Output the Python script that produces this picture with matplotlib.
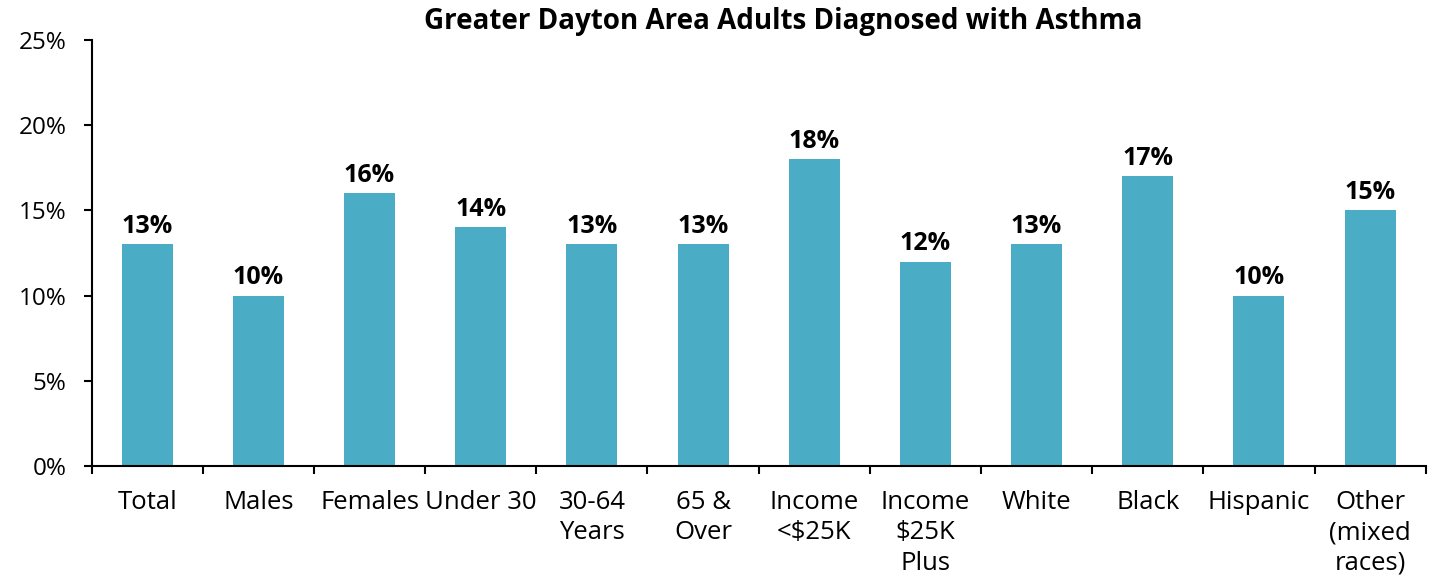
import matplotlib
matplotlib.use("Agg")
import matplotlib.pyplot as plt
import numpy as np

categories = ["Total", "Males", "Females", "Under 30", "30-64\nYears", "65 &\nOver",
              "Income\n<\\$25K", "Income\n\\$25K\nPlus", "White", "Black", "Hispanic",
              "Other\n(mixed\nraces)"]
values = [13, 10, 16, 14, 13, 13, 18, 12, 13, 17, 10, 15]
title = "Greater Dayton Area Adults Diagnosed with Asthma"

plt.rcParams["font.family"] = ["Open Sans", "DejaVu Sans"]

fig = plt.figure(figsize=(14.43, 5.77), dpi=100)
ax = fig.add_axes([0.0635, 0.1924, 0.9245, 0.7383])

x = np.arange(len(categories))
ax.bar(x, values, width=0.46, color="#4BACC6")
for xi, v in zip(x, values):
    ax.annotate(f"{v}%", (xi, v), xytext=(0, 4), textcoords="offset points",
                ha="center", va="bottom", fontsize=18, fontweight="bold")

ax.set_xlim(-0.5, len(categories) - 0.5)
ax.set_ylim(0, 25)
ax.set_yticks(range(0, 26, 5), labels=[f"{t}%" for t in range(0, 26, 5)])
ax.set_xticks(np.arange(-0.5, len(categories) + 0.5, 1), labels=[])
ax.set_xticks(x, labels=categories, minor=True)
ax.tick_params(axis="x", which="minor", length=0, pad=17, labelsize=18.5)
ax.tick_params(axis="x", which="major", length=6, width=1.5)
ax.tick_params(axis="y", length=6, width=1.5, pad=12, labelsize=17.5)
for lbl in ax.get_xticklabels(minor=True):
    lbl.set_linespacing(1.3)

for s in ["top", "right"]:
    ax.spines[s].set_visible(False)
for s in ["left", "bottom"]:
    ax.spines[s].set_linewidth(1.5)

fig.text(0.5426, 0.962, title, ha="center", va="center", fontsize=20, fontweight="bold")

fig.savefig("out.png", dpi=100)
